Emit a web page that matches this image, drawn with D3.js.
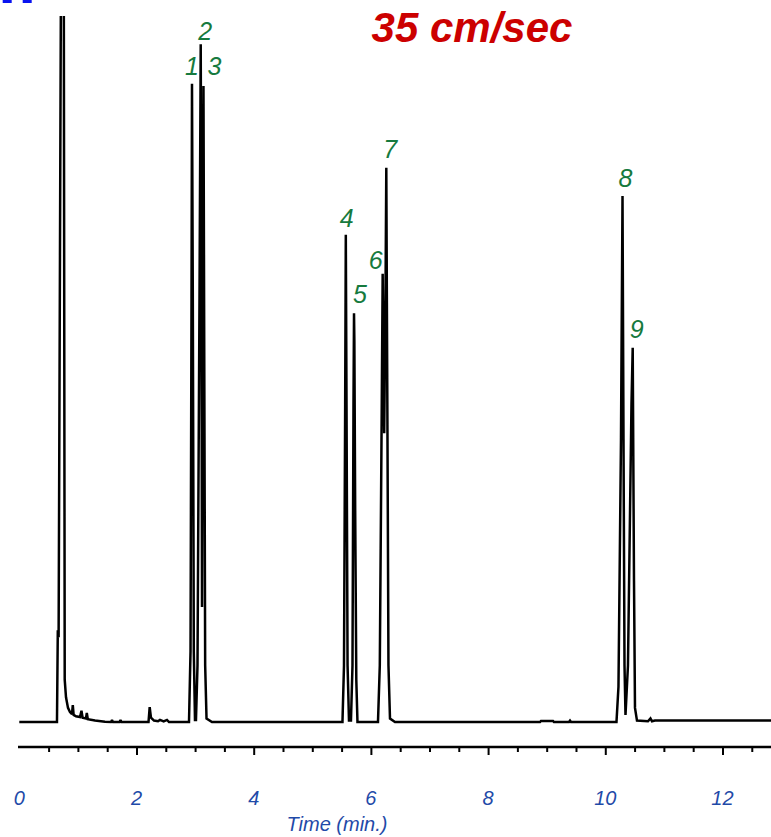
<!DOCTYPE html>
<html>
<head>
<meta charset="utf-8">
<script src="https://cdn.jsdelivr.net/npm/d3@7"></script>
<style>
  html, body { margin: 0; padding: 0; background: #ffffff; }
  svg { display: block; }
</style>
</head>
<body>
<div id="chart"></div>
<script>
// ---- data (time in minutes, detector signal in % of full scale) ----
const traceTime = [
  0.000, 0.643, 0.657, 0.671, 0.717, 0.757, 0.775, 0.797, 0.831, 0.865,
  0.899, 0.913, 0.927, 0.968, 1.036, 1.061, 1.080, 1.138, 1.152, 1.169,
  1.292, 1.462, 1.565, 1.582, 1.599, 1.710, 1.727, 1.744, 2.205, 2.225,
  2.247, 2.299, 2.367, 2.401, 2.464, 2.520, 2.555,
  2.896, 2.922, 2.939, 2.947, 2.961, 2.978, 2.998,
  3.015, 3.041, 3.075, 3.096, 3.109, 3.118, 3.131, 3.143, 3.157, 3.172, 3.195, 3.288,
  5.515, 5.541, 5.561, 5.572, 5.584, 5.602, 5.626,
  5.660, 5.686, 5.703, 5.712, 5.718, 5.732, 5.751, 5.771,
  6.121, 6.152, 6.181, 6.201, 6.227, 6.249, 6.263, 6.278, 6.300, 6.326, 6.411,
  8.886, 8.903, 9.108, 9.124, 9.381, 9.398, 9.415,
  10.191, 10.225, 10.268, 10.294, 10.311, 10.328, 10.345,
  10.387, 10.447, 10.468, 10.490, 10.507, 10.541,
  10.729, 10.771, 10.797, 10.848, 12.828
];
const traceSignal = [
  0, 0, 13, 12, 120, 120, 6, 3.5, 2.0, 1.4,
  1.1, 2.4, 1.0, 0.8, 0.7, 1.6, 0.6, 0.5, 1.3, 0.4,
  0.2, 0.05, 0, 0.25, 0, 0, 0.25, 0, 0, 2.1,
  0.6, 0.2, 0.1, 0.3, 0.1, 0.3, 0,
  0, 10, 60, 90.4, 60, 10, 0.3,
  0.3, 8, 60, 96, 60, 16.3, 60, 90.1, 50, 8, 0.5, 0,
  0, 8, 45, 69, 45, 8, 0.2,
  0.2, 8, 45, 57.9, 54, 30, 6, 0,
  0, 8, 40, 63.5, 40.9, 60, 78.5, 50, 8, 0.5, 0,
  0, 0.15, 0.15, 0, 0, 0.2, 0,
  0, 5, 40, 74.5, 40, 8, 1.0,
  8, 45, 53, 20, 2, 0.2,
  0.1, 0.5, 0.1, 0.2, 0.2
];

const peakLabels = ["1", "2", "3", "4", "5", "6", "7", "8", "9"];
const peakTimes  = [2.947, 3.096, 3.143, 5.572, 5.712, 6.201, 6.263, 10.294, 10.468];
const peakHeights = [90.4, 96, 90.1, 69, 57.9, 63.5, 78.5, 74.5, 53];

const majorTicks = [2, 4, 6, 8, 10, 12];
const tickLabels = ["0", "2", "4", "6", "8", "10", "12"];
const labelTicks = [0, 2, 4, 6, 8, 10, 12];
const minorTicks = [0.5, 1, 1.5, 2.5, 3, 3.5, 4.5, 5, 5.5, 6.5, 7, 7.5, 8.5, 9, 9.5, 10.5, 11, 11.5, 12.5];

const titleText = "35 cm/sec";
const axisTitle = "Time (min.)";

// ---- layout ----
const W = 771, H = 837;
const svg = d3.select("#chart").append("svg").attr("width", W).attr("height", H);

const x = d3.scaleLinear().domain([0, 12.828]).range([19.3, 771]);
const y = d3.scaleLinear().domain([0, 100]).range([722, 16]);

// label offsets (pixels) relative to each peak apex
const labelDX = [0, 4.5, 11, 1, 6, -7, 4, 3, 4];
const labelDY = [-9, -4, -11, -8, -10, -5, -10, -9, -10];

svg.append("defs").append("clipPath").attr("id", "plotclip")
  .append("rect").attr("x", 0).attr("y", y(100)).attr("width", W).attr("height", H);

// blue clipped fragments at top-left corner
svg.append("rect").attr("x", 2.7).attr("y", 0).attr("width", 9).attr("height", 3).attr("fill", "#0a14f0");
svg.append("rect").attr("x", 22.7).attr("y", 0).attr("width", 9).attr("height", 3).attr("fill", "#0a14f0");

// trace
const pts = traceTime.map((t, i) => [t, traceSignal[i]]);
const line = d3.line().x(d => x(d[0])).y(d => y(d[1]));
svg.append("path")
  .attr("clip-path", "url(#plotclip)")
  .attr("d", line(pts))
  .attr("fill", "none")
  .attr("stroke", "#000")
  .attr("stroke-width", 2.5)
  .attr("stroke-linejoin", "miter")
  .attr("stroke-miterlimit", 2);

// peak labels
svg.append("g").selectAll("text").data(peakLabels).join("text")
  .attr("x", (d, i) => x(peakTimes[i]) + labelDX[i])
  .attr("y", (d, i) => y(peakHeights[i]) + labelDY[i])
  .attr("text-anchor", "middle")
  .attr("font-family", "Liberation Sans, Arial, sans-serif")
  .attr("font-style", "italic")
  .attr("font-size", 25)
  .attr("fill", "#167a3e")
  .text(d => d);

// title
svg.append("text")
  .attr("x", 472).attr("y", 42)
  .attr("text-anchor", "middle")
  .attr("font-family", "Liberation Sans, Arial, sans-serif")
  .attr("font-style", "italic").attr("font-weight", "bold")
  .attr("font-size", 42)
  .attr("fill", "#cc0000")
  .text(titleText);

// x axis
const axisY = 747;
const gMajor = svg.append("g").attr("transform", `translate(0,${axisY})`)
  .call(d3.axisBottom(x).tickValues(majorTicks).tickSize(8).tickSizeOuter(0).tickFormat(""));
gMajor.select(".domain").attr("stroke", "#000").attr("stroke-width", 2.5)
  .attr("d", `M18,0H771`);
gMajor.selectAll(".tick line").attr("stroke", "#000").attr("stroke-width", 2);

const gMinor = svg.append("g").attr("transform", `translate(0,${axisY})`)
  .call(d3.axisBottom(x).tickValues(minorTicks).tickSize(5).tickSizeOuter(0).tickFormat(""));
gMinor.select(".domain").remove();
gMinor.selectAll(".tick line").attr("stroke", "#000").attr("stroke-width", 2);

svg.append("g").selectAll("text").data(labelTicks).join("text")
  .attr("x", d => x(d))
  .attr("y", 805)
  .attr("text-anchor", "middle")
  .attr("font-family", "Liberation Sans, Arial, sans-serif")
  .attr("font-style", "italic")
  .attr("font-size", 20)
  .attr("fill", "#1f4aa8")
  .text((d, i) => tickLabels[i]);

svg.append("text")
  .attr("x", 337).attr("y", 831)
  .attr("text-anchor", "middle")
  .attr("font-family", "Liberation Sans, Arial, sans-serif")
  .attr("font-style", "italic")
  .attr("font-size", 20)
  .attr("fill", "#1f4aa8")
  .text(axisTitle);
</script>
</body>
</html>
